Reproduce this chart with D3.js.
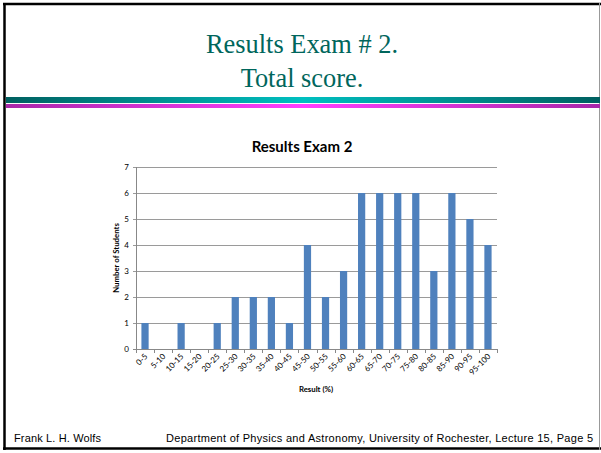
<!DOCTYPE html>
<html><head><meta charset="utf-8">
<script src="https://cdn.jsdelivr.net/npm/d3@7"></script>
<style>body{margin:0;background:#fff}svg{display:block}</style>
</head><body>
<script>
const categories = ["0-5","5-10","10-15","15-20","20-25","25-30","30-35","35-40","40-45","45-50","50-55","55-60","60-65","65-70","70-75","75-80","80-85","85-90","90-95","95-100"];
const students = [1,0,1,0,1,2,2,2,1,4,2,3,6,6,6,6,3,6,5,4];
const yTicks = [0,1,2,3,4,5,6,7];

const W = 601, H = 453;
const svg = d3.select("body").append("svg").attr("width", W).attr("height", H);
const defs = svg.append("defs");
const g1 = defs.append("linearGradient").attr("id","teal");
g1.append("stop").attr("offset","0%").attr("stop-color","#006060");
g1.append("stop").attr("offset","50%").attr("stop-color","#00c0c0");
g1.append("stop").attr("offset","100%").attr("stop-color","#006060");
const g2 = defs.append("linearGradient").attr("id","mag");
g2.append("stop").attr("offset","0%").attr("stop-color","#a828a8");
g2.append("stop").attr("offset","50%").attr("stop-color","#ff40ff");
g2.append("stop").attr("offset","100%").attr("stop-color","#a828a8");

// frame
svg.append("line").attr("x1",3).attr("x2",601).attr("y1",4).attr("y2",4).attr("stroke","#000").attr("stroke-width",2.5);
svg.append("line").attr("x1",4.5).attr("x2",4.5).attr("y1",3).attr("y2",450).attr("stroke","#000").attr("stroke-width",2.5);
svg.append("line").attr("x1",3).attr("x2",601).attr("y1",448.5).attr("y2",448.5).attr("stroke","#000").attr("stroke-width",2.5);
svg.append("line").attr("x1",599.5).attr("x2",599.5).attr("y1",3).attr("y2",450).attr("stroke","#999").attr("stroke-width",1);

// header
svg.append("text").attr("x",302).attr("y",53).attr("text-anchor","middle")
  .attr("font-family","Liberation Serif").attr("font-size",26.4).attr("fill","#00665c").text("Results Exam # 2.");
svg.append("text").attr("x",302).attr("y",87).attr("text-anchor","middle")
  .attr("font-family","Liberation Serif").attr("font-size",26.4).attr("fill","#00665c").text("Total score.");
svg.append("rect").attr("x",6).attr("y",97).attr("width",594).attr("height",6).attr("fill","url(#teal)");
svg.append("rect").attr("x",6).attr("y",104).attr("width",594).attr("height",4).attr("fill","url(#mag)");

// chart
const x = d3.scaleBand().domain(categories).range([136, 497]).paddingInner(0.6).paddingOuter(0.3);
const xb = d3.scaleBand().domain(categories).range([136, 497]);
const y = d3.scaleLinear().domain([0,7]).range([349, 167]);
const font = "Lato, 'Open Sans', sans-serif";

svg.append("text").attr("x",302).attr("y",152).attr("text-anchor","middle")
  .attr("font-family",font).attr("font-weight","bold").attr("font-size",15).text("Results Exam 2");

const gy = svg.append("g");
yTicks.forEach(t=>{
  gy.append("line").attr("x1",133).attr("x2",497).attr("y1",Math.round(y(t))+0.5).attr("y2",Math.round(y(t))+0.5)
    .attr("stroke", t===0 ? "#888" : "#9a9a9a").attr("stroke-width",1);
  gy.append("text").attr("x",129).attr("y",y(t)+2.8).attr("text-anchor","end")
    .attr("font-family",font).attr("font-size",8).text(t);
});
svg.append("line").attr("x1",136.5).attr("x2",136.5).attr("y1",167).attr("y2",349).attr("stroke","#888");

svg.selectAll("rect.bar").data(students).enter().append("rect").attr("class","bar")
  .attr("x",(d,i)=>x(categories[i])).attr("width",x.bandwidth())
  .attr("y",d=>y(d)).attr("height",d=>y(0)-y(d)).attr("fill","#4f81bd");

// x ticks
categories.concat([null]).forEach((c,i)=>{
  const xx = c===null ? 497 : xb(c);
  svg.append("line").attr("x1",Math.round(xx)+0.5).attr("x2",Math.round(xx)+0.5).attr("y1",349).attr("y2",353).attr("stroke","#888");
});
categories.forEach(c=>{
  const cx = xb(c) + xb.bandwidth()/2;
  svg.append("text").attr("transform",`translate(${cx+3},357) rotate(-45)`).attr("text-anchor","end")
    .attr("font-family",font).attr("font-size",8).text(c);
});

svg.append("text").attr("x",316).attr("y",392).attr("text-anchor","middle")
  .attr("font-family",font).attr("font-weight","bold").attr("font-size",7.8).text("Result (%)");
svg.append("text").attr("transform","translate(119,258) rotate(-90)").attr("text-anchor","middle")
  .attr("font-family",font).attr("font-weight","bold").attr("font-size",7.8).text("Number of Students");

// footer
svg.append("text").attr("x",14).attr("y",442).attr("font-family","Liberation Sans").attr("font-size",11)
  .attr("textLength",87).attr("lengthAdjust","spacing").text("Frank L. H. Wolfs");
svg.append("text").attr("x",166).attr("y",442).attr("font-family","Liberation Sans").attr("font-size",11)
  .attr("textLength",427).attr("lengthAdjust","spacing")
  .text("Department of Physics and Astronomy, University of Rochester, Lecture 15, Page 5");
</script>
</body></html>
